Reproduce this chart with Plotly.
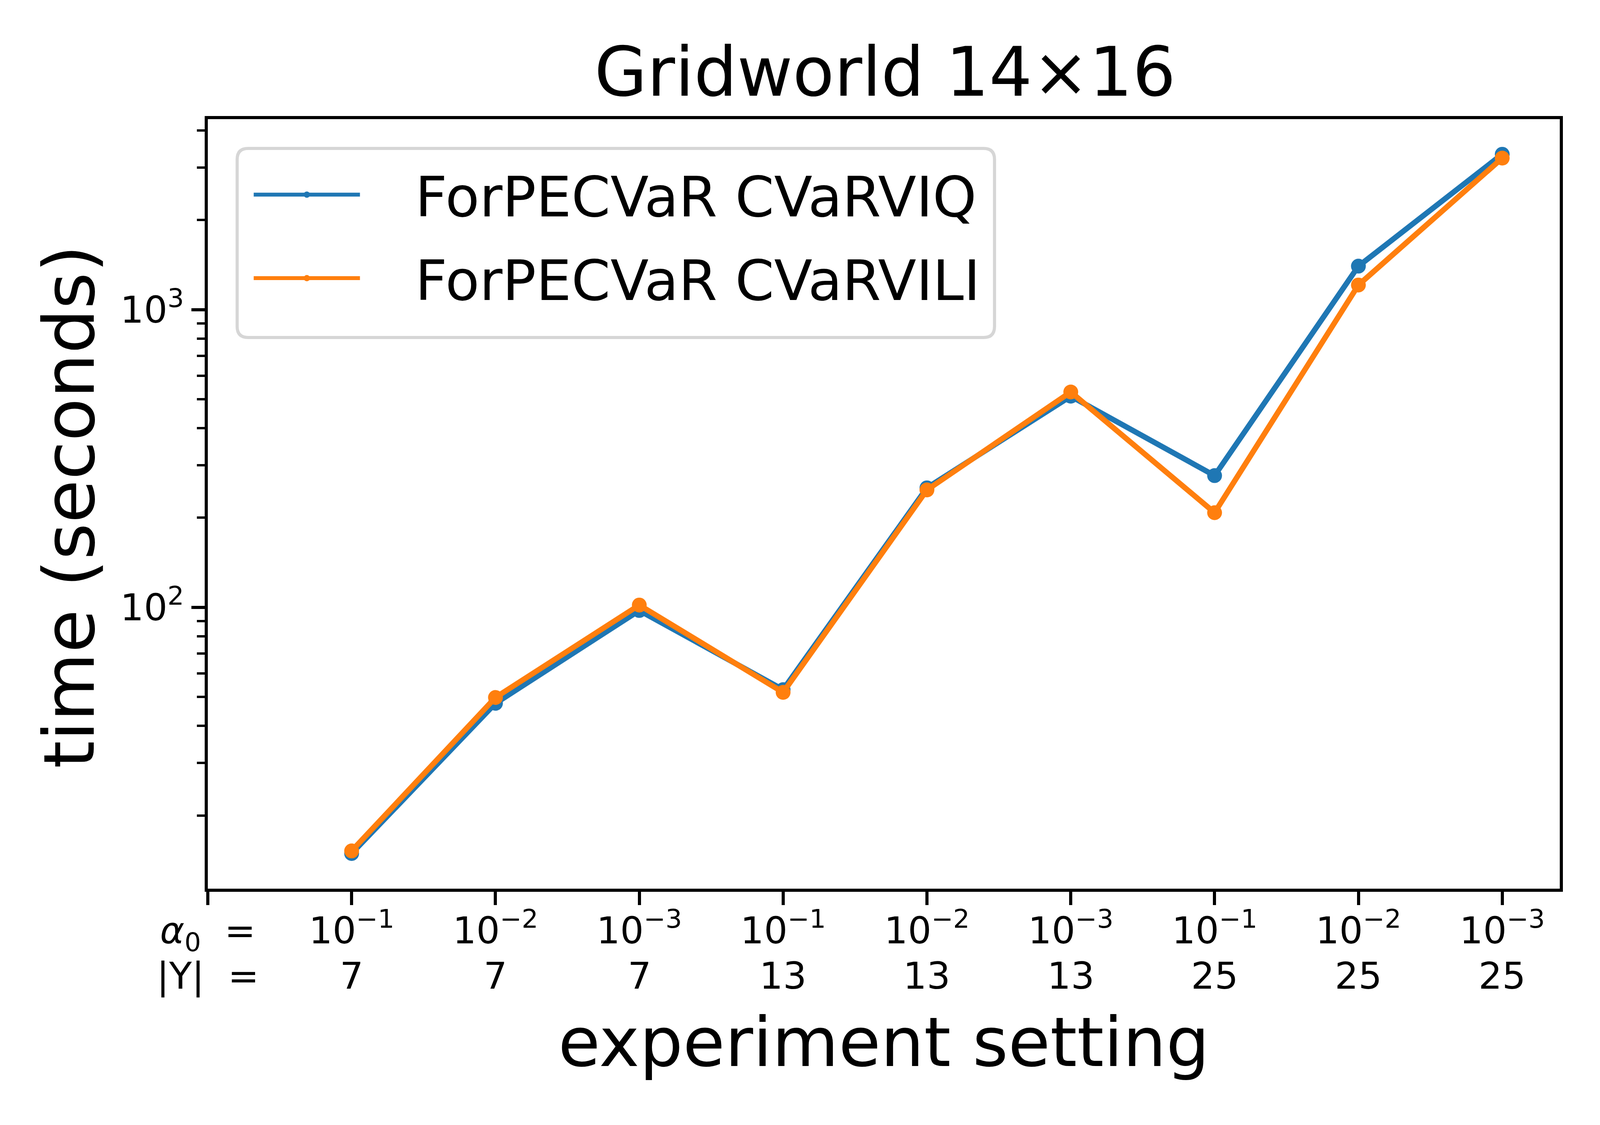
import plotly.graph_objects as go

# 实验设置 (x 轴)
settings = [1, 2, 3, 4, 5, 6, 7, 8, 9]
alpha_labels = ["10<sup>−1</sup>", "10<sup>−2</sup>", "10<sup>−3</sup>"] * 3
y_sizes = ["7", "7", "7", "13", "13", "13", "25", "25", "25"]

# 运行时间 (秒)
time_cvarviq = [14.9, 47.6, 97.6, 52.9, 252, 512, 277, 1400, 3327]
time_cvarvili = [15.2, 49.8, 101.8, 51.8, 248, 529, 208, 1210, 3229]

blue = '#1f77b4'
orange = '#ff7f0e'
font_family = "DejaVu Sans"
gap = "\u00a0" * 3

# 刻度标签 (第一行: α0, 第二行: |Y| 用注释画)
tick_vals = [0] + settings
tick_text = ["<i>α</i><sub>0</sub>\u00a0\u00a0="] + alpha_labels
row2_x = [0] + settings
row2_text = ["|Y|\u00a0\u00a0="] + y_sizes

fig = go.Figure()

fig.add_trace(go.Scatter(
    x=settings, y=time_cvarviq,
    mode='lines+markers',
    line={'color': blue, 'width': 14},
    marker={'color': blue, 'size': 38},
    name=gap + 'ForPECVaR CVaRVIQ', legendgroup='a'
))
fig.add_trace(go.Scatter(
    x=settings, y=time_cvarvili,
    mode='lines+markers',
    line={'color': orange, 'width': 14},
    marker={'color': orange, 'size': 38},
    name=gap + 'ForPECVaR CVaRVILI', legendgroup='b'
))

minor_vals = [20, 30, 40, 50, 60, 70, 80, 90,
              200, 300, 400, 500, 600, 700, 800, 900,
              2000, 3000, 4000]

annotations = [
    {'text': 'experiment setting', 'xref': 'paper', 'yref': 'paper',
     'x': 0.5, 'y': 0, 'xanchor': 'center', 'yanchor': 'middle',
     'yshift': -393, 'showarrow': False, 'font': {'size': 175}},
    {'text': 'time (seconds)', 'xref': 'paper', 'yref': 'paper',
     'x': 0, 'y': 0.5, 'xanchor': 'center', 'yanchor': 'middle',
     'xshift': -355, 'yshift': -7, 'textangle': -90,
     'showarrow': False, 'font': {'size': 180}},
]
for xv, txt in zip(row2_x, row2_text):
    annotations.append({'text': txt, 'xref': 'x', 'yref': 'paper',
                        'x': xv, 'y': 0, 'xanchor': 'center', 'yanchor': 'middle',
                        'yshift': -223, 'showarrow': False, 'font': {'size': 95}})

# 图例外框 (圆角)
lx0, lx1, ly0, ly1 = 0.0217, 0.5819, 0.7162, 0.9619
rx, ry = 0.0081, 0.0142
frame_path = (f"M {lx0 + rx},{ly1} L {lx1 - rx},{ly1} Q {lx1},{ly1} {lx1},{ly1 - ry} "
              f"L {lx1},{ly0 + ry} Q {lx1},{ly0} {lx1 - rx},{ly0} "
              f"L {lx0 + rx},{ly0} Q {lx0},{ly0} {lx0},{ly0 + ry} "
              f"L {lx0},{ly1 - ry} Q {lx0},{ly1} {lx0 + rx},{ly1} Z")

fig.update_layout(
    width=4080, height=2864,
    margin={'l': 524, 'r': 95, 't': 297, 'b': 597},
    paper_bgcolor='white', plot_bgcolor='white',
    font={'family': font_family, 'color': 'black', 'size': 95},
    title={'text': 'Gridworld 14×16', 'font': {'size': 174},
           'x': 0.5534, 'xanchor': 'center',
           'y': 1 - 237 / 2864, 'yanchor': 'bottom', 'yref': 'container'},
    showlegend=True,
    legend={'x': 0.0325, 'y': 0.9524, 'xanchor': 'left', 'yanchor': 'top',
            'font': {'size': 143}, 'bgcolor': 'rgba(0,0,0,0)', 'borderwidth': 0,
            'itemwidth': 272, 'tracegroupgap': 25, 'traceorder': 'grouped'},
    shapes=[{'type': 'path', 'path': frame_path, 'xref': 'paper', 'yref': 'paper',
             'fillcolor': 'white', 'line': {'color': '#d6d6d6', 'width': 8},
             'layer': 'above'}],
    xaxis={
        'range': [0, 9.4],
        'tickmode': 'array', 'tickvals': tick_vals, 'ticktext': tick_text,
        'ticks': 'outside', 'ticklen': 34, 'tickwidth': 8, 'tickcolor': 'black',
        'ticklabelstandoff': -16,
        'showline': True, 'linecolor': 'black', 'linewidth': 8, 'mirror': True,
        'showgrid': False, 'zeroline': False,
        'tickfont': {'size': 95},
    },
    yaxis={
        'type': 'log',
        'range': [1.055, 3.64],
        'tickmode': 'array', 'tickvals': [100, 1000],
        'ticktext': ['10<sup>2</sup>', '10<sup>3</sup>'],
        'ticks': 'outside', 'ticklen': 34, 'tickwidth': 8, 'tickcolor': 'black',
        'minor': {'tickvals': minor_vals, 'ticks': 'outside', 'ticklen': 20,
                  'tickwidth': 6, 'tickcolor': 'black', 'showgrid': False},
        'showline': True, 'linecolor': 'black', 'linewidth': 8, 'mirror': True,
        'showgrid': False, 'zeroline': False,
        'tickfont': {'size': 95},
    },
    annotations=annotations,
)

fig.write_html("out.html")
